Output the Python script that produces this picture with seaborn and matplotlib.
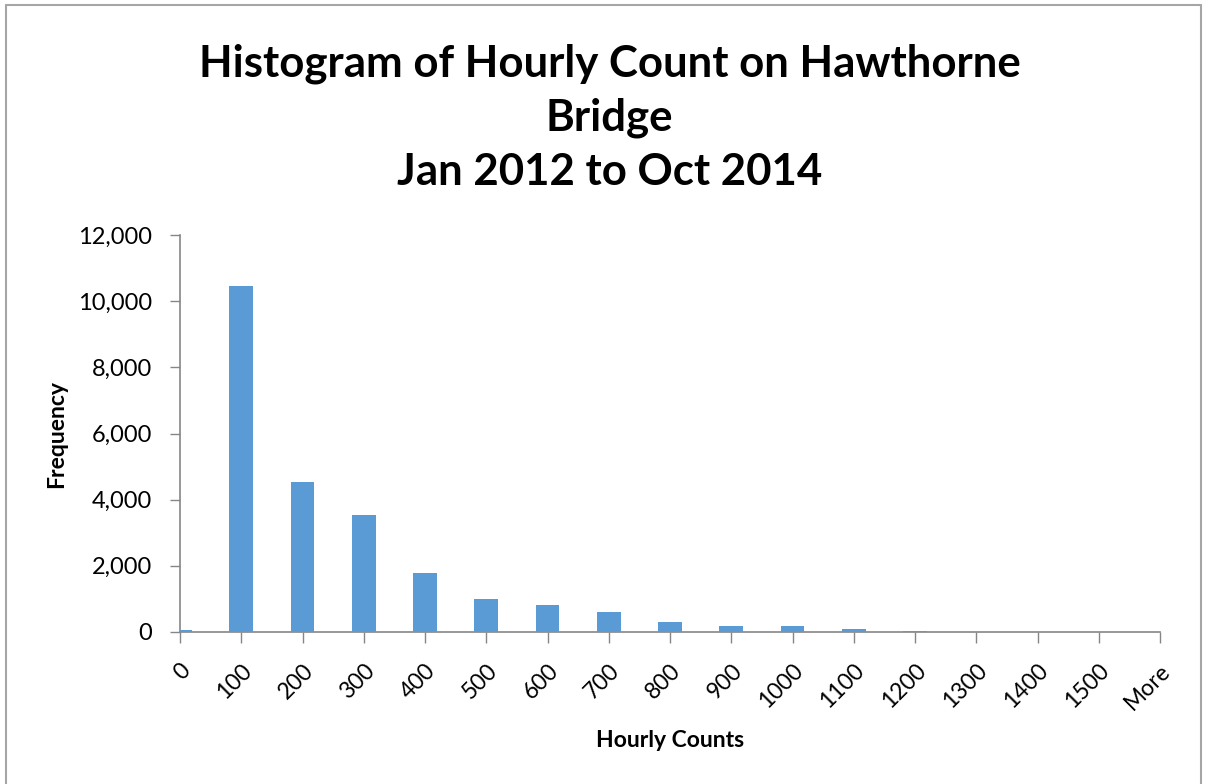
import numpy as np
import matplotlib
matplotlib.use("Agg")
import matplotlib.pyplot as plt
import matplotlib.ticker as mtick
import pandas as pd
import seaborn as sb
from matplotlib.lines import Line2D

# bins as labelled on the excel chart
bins = ["0", "100", "200", "300", "400", "500", "600", "700", "800",
        "900", "1000", "1100", "1200", "1300", "1400", "1500", "More"]
# frequency
freq = [70, 10450, 4540, 3550, 1790, 1000, 815, 615, 315,
        185, 185, 105, 25, 5, 0, 0, 0]

data = pd.DataFrame({"Hourly Counts": bins, "Frequency": freq})

sb.set_style("white")
plt.rcParams["font.family"] = ["Lato", "DejaVu Sans"]
plt.rcParams["text.color"] = "black"
plt.rcParams["xtick.color"] = "black"
plt.rcParams["ytick.color"] = "black"
plt.rcParams["axes.labelcolor"] = "black"

fig = plt.figure(figsize=(12.07, 7.84), dpi=100)
ax = fig.add_axes([180 / 1207, 1 - 632 / 784, 980 / 1207, 397 / 784])

sb.barplot(data=data, x="Hourly Counts", y="Frequency", color="#5B9BD5",
           saturation=1, width=0.39, linewidth=0, ax=ax, zorder=3)

# excel draws the bars centred on the tick marks, edge bars clipped by the axes
ax.set_xlim(0, len(bins) - 1)
ax.set_ylim(0, 12000)
ax.yaxis.set_major_locator(mtick.MultipleLocator(2000))
ax.yaxis.set_major_formatter(mtick.StrMethodFormatter("{x:,.0f}"))

ax.set_xticks(range(len(bins)))
ax.set_xticklabels(bins, rotation=45, ha="right", rotation_mode="anchor", fontsize=16.5)
for lab in ax.get_yticklabels():
    lab.set_fontsize(17)

ax.tick_params(axis="x", length=8, width=1, color="#868686", pad=12, direction="out", bottom=True)
ax.tick_params(axis="y", length=7, width=1, color="#868686", pad=13, direction="out", left=True)

for s in ["top", "right"]:
    ax.spines[s].set_visible(False)
for s in ["left", "bottom"]:
    ax.spines[s].set_color("#868686")
    ax.spines[s].set_linewidth(1.2)

ax.set_xlabel("Hourly Counts", fontsize=16.5, fontweight="bold", labelpad=12)
ax.set_ylabel("Frequency", fontsize=16.5, fontweight="bold", labelpad=8)

fig.text(0.505, 1 - 118 / 784, "Histogram of Hourly Count on Hawthorne\nBridge\nJan 2012 to Oct 2014",
         ha="center", va="center", fontsize=31.5, fontweight="bold", linespacing=1.42)

# chart border
W, H = 1207, 784
for xs, ys in [([6, 1201], [5, 5]), ([6, 6], [5, 784]), ([1201, 1201], [5, 784])]:
    fig.add_artist(Line2D([x / W for x in xs], [1 - y / H for y in ys],
                          color="#A6A6A6", linewidth=1.5, transform=fig.transFigure))

fig.savefig("out.png", dpi=100)
